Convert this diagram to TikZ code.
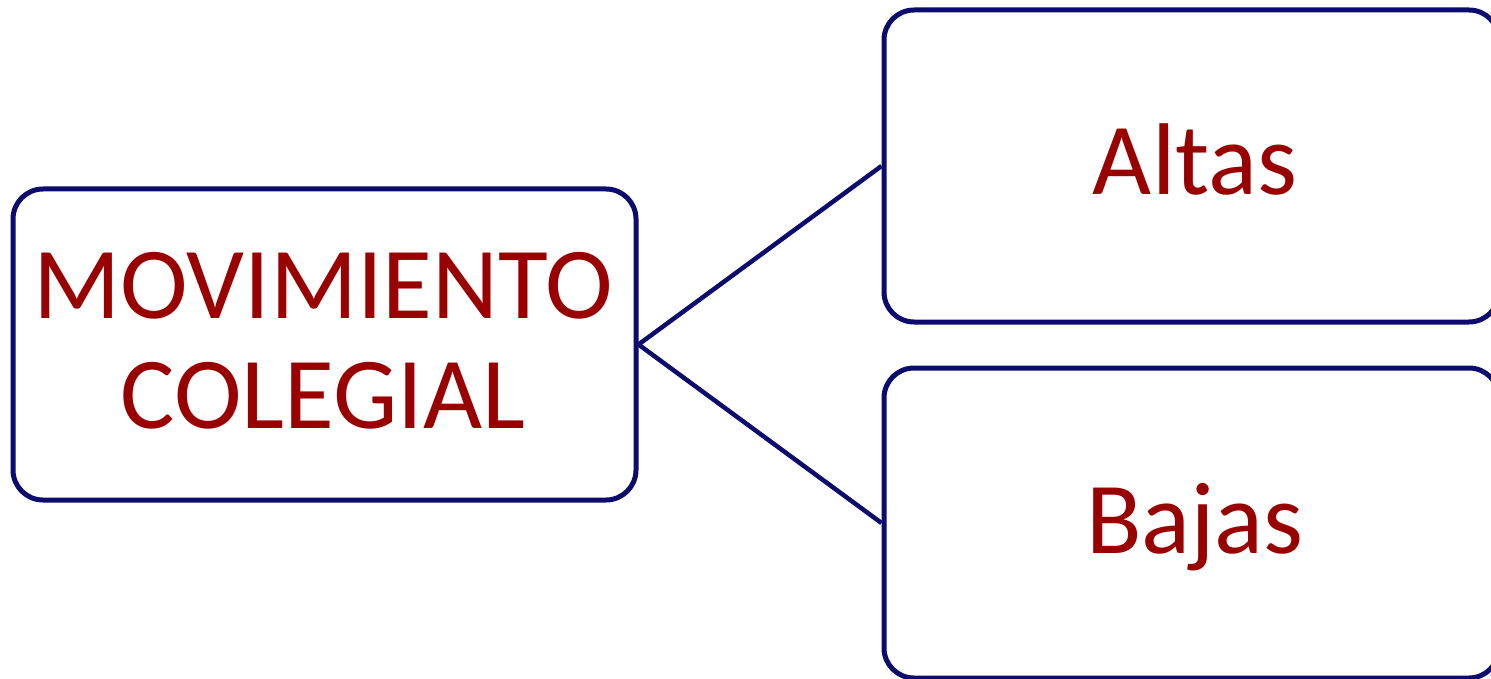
\documentclass[tikz,border=0pt]{standalone}
\usepackage{fontspec}
\setmainfont{Carlito}
\definecolor{navy}{RGB}{12,12,110}
\definecolor{darkred}{RGB}{153,0,0}
\begin{document}
\begin{tikzpicture}[x=1pt,y=-1pt,
  box/.style={draw=navy,line width=5pt,rounded corners=30pt,fill=white,inner sep=0pt},
  conn/.style={draw=navy,line width=4.5pt},
  lbl/.style={text=darkred,font=\fontsize{102}{110}\selectfont,inner sep=0pt,anchor=base}]
\useasboundingbox (0,0) rectangle (1491,679);
\clip (0,0) rectangle (1491,679);
\fill[white] (0,0) rectangle (1491,679);
\node[box,minimum width=623pt,minimum height=311pt] (mov) at (324.5,344.5) {};
\node[box,minimum width=615pt,minimum height=312pt] (altas) at (1191.5,166) {};
\node[box,minimum width=615pt,minimum height=310pt] (bajas) at (1191.5,523) {};
\draw[conn] (mov.east) -- (altas.west);
\draw[conn] (mov.east) -- (bajas.west);
\node[lbl] (t1) at (323,318) {MOVIMIENTO};
\node[lbl] (t2) at (323,428) {COLEGIAL};
\node[lbl] (t3) at (1195,195) {Altas};
\node[lbl] (t4) at (1195,553) {Bajas};
\end{tikzpicture}
\end{document}
